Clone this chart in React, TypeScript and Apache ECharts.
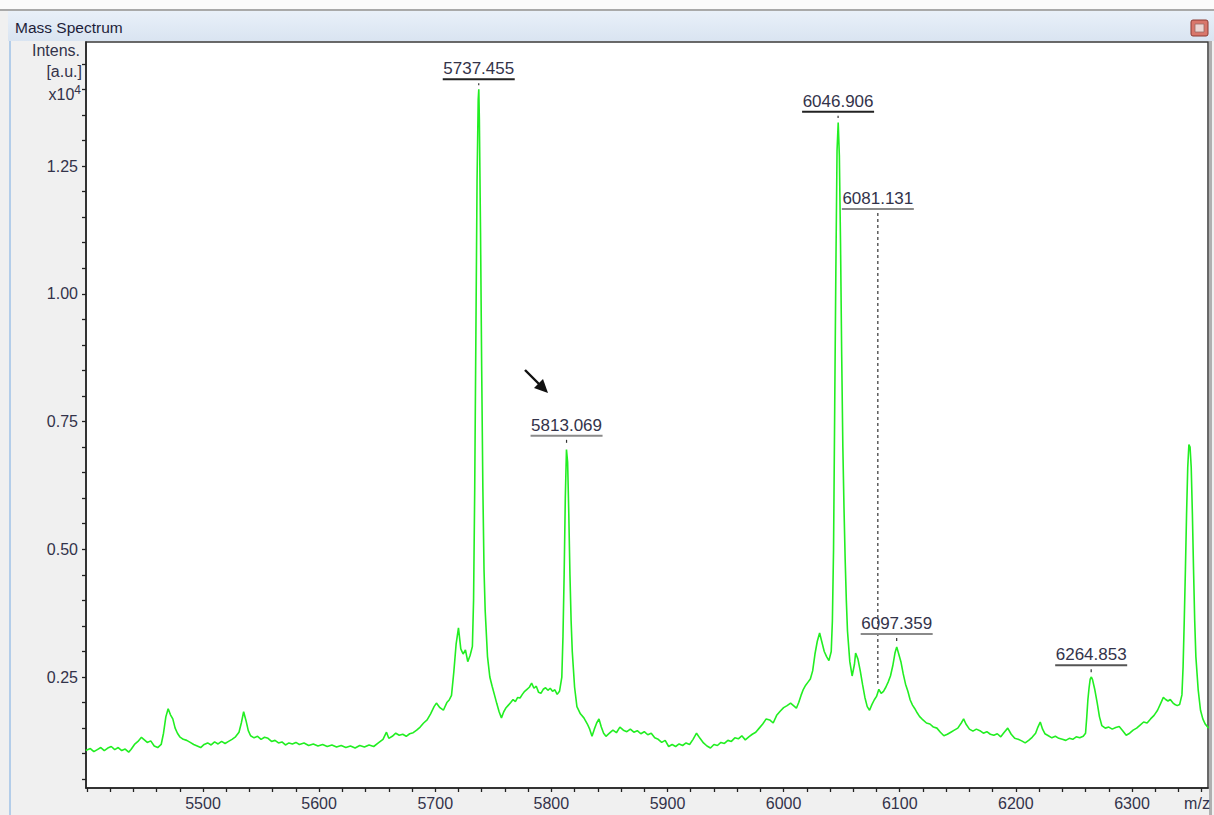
import React, { useEffect, useRef } from "react";
import * as echarts from "echarts";

// ---- data (m/z, intensity x10^4) ----
const spectrum: [number, number][] = [
  [5399, 0.106], [5403, 0.110], [5406, 0.104], [5409, 0.108], [5412, 0.112], [5415, 0.106],
  [5418, 0.111], [5421, 0.114], [5424, 0.108], [5427, 0.112], [5430, 0.106], [5433, 0.109],
  [5436, 0.103], [5438, 0.108], [5441, 0.118], [5444, 0.124], [5447, 0.132], [5449, 0.128],
  [5452, 0.122], [5455, 0.125], [5458, 0.115], [5461, 0.112], [5464, 0.118], [5466, 0.140],
  [5468, 0.172], [5470, 0.188], [5472, 0.176], [5474, 0.168], [5476, 0.150], [5478, 0.140],
  [5480, 0.133], [5483, 0.128], [5486, 0.126], [5489, 0.122], [5492, 0.118], [5495, 0.115],
  [5498, 0.112], [5501, 0.118], [5504, 0.121], [5507, 0.117], [5510, 0.123], [5513, 0.119],
  [5516, 0.124], [5519, 0.120], [5522, 0.124], [5525, 0.128], [5528, 0.133], [5531, 0.142],
  [5533, 0.160], [5535, 0.182], [5537, 0.165], [5539, 0.145], [5541, 0.135], [5544, 0.131],
  [5547, 0.134], [5550, 0.128], [5553, 0.132], [5556, 0.130], [5559, 0.124], [5562, 0.126],
  [5565, 0.121], [5568, 0.123], [5571, 0.117], [5574, 0.121], [5577, 0.119], [5580, 0.122],
  [5583, 0.118], [5587, 0.121], [5591, 0.116], [5595, 0.119], [5599, 0.115], [5603, 0.118],
  [5607, 0.114], [5611, 0.117], [5615, 0.113], [5619, 0.116], [5623, 0.112], [5627, 0.115],
  [5631, 0.111], [5635, 0.116], [5639, 0.113], [5643, 0.117], [5647, 0.114], [5651, 0.121],
  [5655, 0.128], [5658, 0.142], [5660, 0.130], [5663, 0.134], [5666, 0.140], [5669, 0.136],
  [5672, 0.138], [5675, 0.134], [5678, 0.139], [5681, 0.141], [5684, 0.146], [5687, 0.152],
  [5690, 0.160], [5693, 0.166], [5696, 0.178], [5699, 0.192], [5701, 0.199], [5704, 0.190],
  [5707, 0.185], [5710, 0.200], [5712, 0.205], [5714, 0.214], [5716, 0.260], [5718, 0.315],
  [5720, 0.346], [5722, 0.305], [5724, 0.295], [5726, 0.303], [5728, 0.280], [5730, 0.292],
  [5732, 0.310], [5733, 0.400], [5734, 0.620], [5735, 0.920], [5736, 1.220], [5737, 1.380],
  [5737.5, 1.400], [5738, 1.340], [5739, 1.120], [5740, 0.850], [5741, 0.620], [5742, 0.460],
  [5743, 0.380], [5745, 0.290], [5747, 0.250], [5749, 0.232], [5751, 0.215], [5753, 0.198],
  [5755, 0.182], [5757, 0.170], [5759, 0.182], [5761, 0.190], [5763, 0.195], [5765, 0.200],
  [5767, 0.206], [5769, 0.202], [5771, 0.210], [5773, 0.209], [5775, 0.216], [5777, 0.222],
  [5779, 0.226], [5781, 0.230], [5783, 0.238], [5785, 0.228], [5787, 0.232], [5789, 0.220],
  [5791, 0.218], [5793, 0.226], [5795, 0.229], [5797, 0.224], [5799, 0.228], [5801, 0.222],
  [5803, 0.225], [5805, 0.216], [5807, 0.222], [5809, 0.250], [5810, 0.330], [5811, 0.450],
  [5812, 0.600], [5813, 0.695], [5814, 0.670], [5815, 0.570], [5816, 0.450], [5817, 0.360],
  [5818, 0.300], [5820, 0.230], [5822, 0.192], [5825, 0.178], [5828, 0.170], [5831, 0.158],
  [5833, 0.148], [5835, 0.134], [5837, 0.148], [5839, 0.160], [5841, 0.168], [5843, 0.152],
  [5845, 0.140], [5847, 0.134], [5850, 0.140], [5853, 0.146], [5856, 0.141], [5859, 0.152],
  [5862, 0.146], [5865, 0.143], [5868, 0.148], [5871, 0.142], [5874, 0.145], [5877, 0.139],
  [5880, 0.143], [5883, 0.137], [5886, 0.140], [5889, 0.131], [5892, 0.128], [5895, 0.122],
  [5898, 0.126], [5901, 0.114], [5904, 0.118], [5907, 0.114], [5910, 0.119], [5913, 0.116],
  [5916, 0.121], [5919, 0.118], [5922, 0.128], [5925, 0.140], [5928, 0.130], [5931, 0.121],
  [5934, 0.115], [5937, 0.111], [5940, 0.118], [5943, 0.116], [5946, 0.122], [5949, 0.120],
  [5952, 0.126], [5955, 0.124], [5958, 0.131], [5961, 0.129], [5964, 0.135], [5967, 0.127],
  [5970, 0.133], [5973, 0.138], [5976, 0.142], [5979, 0.150], [5982, 0.158], [5985, 0.168],
  [5988, 0.166], [5991, 0.160], [5994, 0.175], [5997, 0.183], [6000, 0.190], [6003, 0.194],
  [6006, 0.199], [6009, 0.193], [6011, 0.189], [6013, 0.200], [6015, 0.214], [6017, 0.226],
  [6019, 0.234], [6021, 0.240], [6023, 0.246], [6025, 0.262], [6027, 0.295], [6029, 0.320],
  [6031, 0.336], [6033, 0.318], [6035, 0.300], [6037, 0.290], [6039, 0.282], [6041, 0.300],
  [6042, 0.360], [6043, 0.500], [6044, 0.780], [6045, 1.050], [6046, 1.280], [6047, 1.335],
  [6048, 1.270], [6049, 1.100], [6050, 0.880], [6051, 0.700], [6052, 0.580], [6053, 0.480],
  [6054, 0.400], [6055, 0.340], [6057, 0.280], [6059, 0.252], [6061, 0.275], [6062, 0.297],
  [6064, 0.285], [6066, 0.262], [6068, 0.235], [6070, 0.210], [6072, 0.192], [6074, 0.185],
  [6076, 0.196], [6078, 0.205], [6080, 0.212], [6082, 0.226], [6084, 0.218], [6086, 0.222],
  [6088, 0.230], [6090, 0.240], [6092, 0.252], [6094, 0.272], [6096, 0.298], [6097.4, 0.309],
  [6099, 0.296], [6101, 0.280], [6103, 0.256], [6105, 0.236], [6107, 0.222], [6109, 0.205],
  [6111, 0.195], [6113, 0.188], [6115, 0.180], [6117, 0.173], [6120, 0.166], [6123, 0.160],
  [6126, 0.158], [6129, 0.152], [6132, 0.150], [6135, 0.142], [6138, 0.135], [6141, 0.138],
  [6144, 0.142], [6147, 0.146], [6150, 0.150], [6153, 0.160], [6155, 0.168], [6157, 0.158],
  [6160, 0.148], [6163, 0.144], [6166, 0.148], [6169, 0.145], [6172, 0.140], [6175, 0.143],
  [6178, 0.138], [6181, 0.136], [6184, 0.139], [6187, 0.133], [6190, 0.142], [6193, 0.150],
  [6196, 0.138], [6199, 0.130], [6202, 0.128], [6205, 0.125], [6208, 0.121], [6211, 0.126],
  [6214, 0.132], [6217, 0.140], [6219, 0.152], [6221, 0.162], [6223, 0.148], [6225, 0.139],
  [6228, 0.135], [6231, 0.131], [6234, 0.134], [6237, 0.130], [6240, 0.128], [6243, 0.126],
  [6246, 0.130], [6249, 0.128], [6252, 0.133], [6255, 0.131], [6258, 0.134], [6260, 0.140],
  [6261, 0.170], [6262, 0.205], [6263, 0.228], [6264, 0.246], [6265, 0.250], [6266, 0.245],
  [6268, 0.225], [6270, 0.200], [6272, 0.172], [6274, 0.155], [6277, 0.150], [6280, 0.152],
  [6283, 0.148], [6286, 0.151], [6289, 0.153], [6292, 0.145], [6295, 0.136], [6298, 0.140],
  [6301, 0.146], [6304, 0.150], [6307, 0.156], [6310, 0.162], [6313, 0.160], [6316, 0.168],
  [6319, 0.175], [6322, 0.185], [6325, 0.200], [6327, 0.210], [6329, 0.206], [6331, 0.203],
  [6333, 0.206], [6335, 0.200], [6337, 0.196], [6339, 0.194], [6341, 0.196], [6343, 0.215],
  [6344, 0.270], [6345, 0.360], [6346, 0.460], [6347, 0.570], [6348, 0.660], [6349, 0.705],
  [6350, 0.700], [6351, 0.660], [6352, 0.570], [6353, 0.460], [6354, 0.360], [6355, 0.290],
  [6357, 0.225], [6359, 0.185], [6361, 0.168], [6363, 0.158], [6366, 0.150],
];

// peak annotations
const PEAK_LABELS = ["5737.455", "5813.069", "6046.906", "6081.131", "6097.359", "6264.853"];
const PEAK_MZ = [5737.455, 5813.069, 6046.906, 6081.131, 6097.359, 6264.853];
const PEAK_TOP = [1.4, 0.698, 1.336, 0.226, 0.309, 0.25];
const LABEL_LEVEL = [1.42, 0.722, 1.356, 1.166, 0.334, 0.273];

// axis ticks / labels
const X_LABELS = [5500, 5600, 5700, 5800, 5900, 6000, 6100, 6200, 6300];
const Y_LABELS = [0.25, 0.5, 0.75, 1.0, 1.25];
const X_MIN = 5399.25;
const X_MAX = 6365.45;
const Y_MIN = 0.0328;
const Y_MAX = 1.4927;

// styles
const UNDERLINE_COLORS = ["#222222", "#8a8a8a", "#222222", "#8a8a8a", "#8a8a8a", "#555555"];
const FONT = "'Liberation Sans', Arial, sans-serif";
const TEXT = "#33334a";

export default function App() {
  const ref = useRef<HTMLDivElement>(null);

  useEffect(() => {
    if (!ref.current) return;
    const chart = echarts.init(ref.current, undefined, { renderer: "svg" });

    const xMinor: number[] = [];
    for (let v = 5400; v <= 6360; v += 20) xMinor.push(v);
    const yMinor: number[] = [];
    for (let k = 1; k <= 29; k++) yMinor.push(Math.round(k * 5) / 100);

    const option: any = {
      animation: false,
      backgroundColor: "#f0f0f0",
      grid: {
        show: true,
        left: 86,
        top: 42,
        width: 1122,
        height: 746,
        backgroundColor: "#ffffff",
        borderColor: "#3a3a3a",
        borderWidth: 1.5,
      },
      xAxis: {
        type: "value",
        min: X_MIN,
        max: X_MAX,
        axisLine: { lineStyle: { color: "#222", width: 1.5 } },
        axisTick: {
          customValues: xMinor,
          length: 4,
          lineStyle: { color: "#222", width: 1.3 },
        },
        axisLabel: {
          customValues: X_LABELS,
          formatter: (v: number) => String(Math.round(v)),
          fontSize: 16,
          color: TEXT,
          fontFamily: FONT,
          margin: 7,
        },
        splitLine: { show: false },
      },
      yAxis: {
        type: "value",
        min: Y_MIN,
        max: Y_MAX,
        axisLine: { show: true, lineStyle: { color: "#222", width: 1.5 } },
        axisTick: {
          show: true,
          customValues: yMinor,
          length: 4,
          lineStyle: { color: "#222", width: 1.3 },
        },
        axisLabel: {
          customValues: Y_LABELS,
          formatter: (v: number) => v.toFixed(2),
          fontSize: 16,
          color: TEXT,
          fontFamily: FONT,
          margin: 8,
        },
        splitLine: { show: false },
      },
      series: [
        {
          type: "line",
          data: spectrum,
          symbol: "none",
          lineStyle: { color: "#22ee22", width: 1.6 },
          z: 3,
        },
        {
          type: "custom",
          clip: false,
          z: 5,
          data: PEAK_MZ.map((m, i) => [m, PEAK_TOP[i], LABEL_LEVEL[i], i]),
          renderItem: (params: any, api: any) => {
            const x = api.value(0);
            const top = api.value(1);
            const lvl = api.value(2);
            const i = api.value(3);
            const pTop = api.coord([x, top]);
            const pLvl = api.coord([x, lvl]);
            return {
              type: "group",
              children: [
                {
                  type: "text",
                  style: {
                    text: PEAK_LABELS[i],
                    x: pLvl[0],
                    y: pLvl[1] - 2,
                    align: "center",
                    verticalAlign: "bottom",
                    fontSize: 17,
                    fontFamily: FONT,
                    fill: TEXT,
                  },
                },
                {
                  type: "line",
                  shape: { x1: pLvl[0] - 36, y1: pLvl[1], x2: pLvl[0] + 36, y2: pLvl[1] },
                  style: { stroke: UNDERLINE_COLORS[i], lineWidth: 2 },
                },
                {
                  type: "line",
                  shape: { x1: pLvl[0], y1: pLvl[1] + 4, x2: pLvl[0], y2: pTop[1] - 4 },
                  style: { stroke: "#333", lineWidth: 1.2, lineDash: [3, 3] },
                },
              ],
            };
          },
        },
      ],
      graphic: [
        { type: "rect", shape: { x: 0, y: 0, width: 1214, height: 9 }, style: { fill: "#fbfbfb" }, z: -10 },
        { type: "rect", shape: { x: 0, y: 9, width: 1214, height: 2 }, style: { fill: "#a9a9a9" }, z: -9 },
        {
          type: "rect",
          shape: { x: 8, y: 11, width: 1206, height: 30 },
          style: {
            fill: new echarts.graphic.LinearGradient(0, 0, 0, 1, [
              { offset: 0, color: "#e9f0f9" },
              { offset: 1, color: "#d9e4f1" },
            ]),
          },
          z: -9,
        },
        { type: "line", shape: { x1: 10, y1: 41, x2: 10, y2: 815 }, style: { stroke: "#b3cde9", lineWidth: 2 } },
        { type: "rect", shape: { x: 1209, y: 41, width: 3, height: 774 }, style: { fill: "#b0b0b0" } },
        {
          type: "text",
          style: { text: "Mass Spectrum", x: 15, y: 27, verticalAlign: "middle", fontSize: 15.5, fontFamily: FONT, fill: "#1e1e3a" },
        },
        {
          type: "rect",
          shape: { x: 1191, y: 20, width: 17, height: 16, r: 2 },
          style: { fill: "#d9776b", stroke: "#8c3b33", lineWidth: 1 },
        },
        {
          type: "rect",
          shape: { x: 1195, y: 24, width: 9, height: 8 },
          style: { fill: "#ecd6d3", stroke: "#9a6a66", lineWidth: 0.8 },
        },
        {
          type: "text",
          style: { text: "Intens.", x: 80, y: 50, align: "right", verticalAlign: "middle", fontSize: 16, fontFamily: FONT, fill: TEXT },
        },
        {
          type: "text",
          style: { text: "[a.u.]", x: 82, y: 71, align: "right", verticalAlign: "middle", fontSize: 16, fontFamily: FONT, fill: TEXT },
        },
        {
          type: "text",
          style: {
            text: "x10{s|4}",
            x: 81,
            y: 94,
            align: "right",
            verticalAlign: "middle",
            fontSize: 16,
            fontFamily: FONT,
            fill: TEXT,
            rich: { s: { fontSize: 12, fontFamily: FONT, fill: TEXT, verticalAlign: "top", padding: [0, 0, 8, 0] } },
          },
        },
        {
          type: "text",
          style: { text: "m/z", x: 1197, y: 803, align: "center", verticalAlign: "middle", fontSize: 16, fontFamily: FONT, fill: TEXT },
        },
        { type: "line", shape: { x1: 525, y1: 370, x2: 540, y2: 385 }, style: { stroke: "#111", lineWidth: 2.4 } },
        { type: "polygon", shape: { points: [[548, 393], [534, 388], [543, 379]] }, style: { fill: "#111" } },
      ],
    };

    chart.setOption(option);
    return () => chart.dispose();
  }, []);

  return (
    <div
      ref={ref}
      style={{ position: "fixed", left: 0, top: 0, width: 1214, height: 815 }}
    />
  );
}
